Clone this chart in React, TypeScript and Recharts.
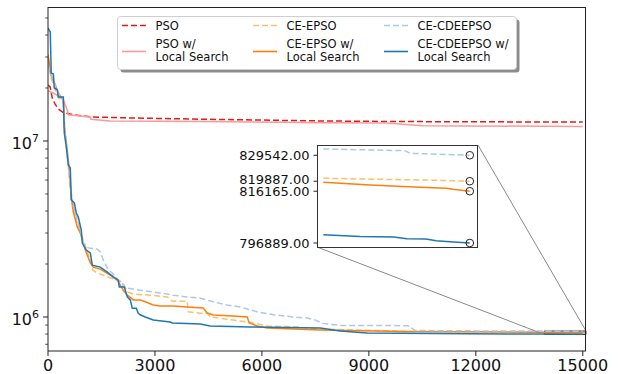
import React from 'react';
import { LineChart, Line, XAxis, YAxis, ReferenceArea } from 'recharts';

const FONT = '"DejaVu Sans", Verdana, sans-serif';

// best-so-far fitness per iteration
const psoIter = [0, 60, 120, 200, 290, 430, 700, 1200, 2400, 4300, 7600, 9600, 15000];
const psoVal = [2.08e7, 2.03e7, 1.75e7, 1.62e7, 1.52e7, 1.45e7, 1.41e7, 1.37e7, 1.35e7, 1.33e7, 1.3e7, 1.29e7, 1.28e7];

const psoLsIter = [0, 200, 430, 540, 570, 1180, 1200, 1750, 4270, 7640, 9500, 10500, 15000];
const psoLsVal = [1.93e7, 1.85e7, 1.71e7, 1.5e7, 1.41e7, 1.37e7, 1.33e7, 1.3e7, 1.29e7, 1.27e7, 1.265e7, 1.22e7, 1.21e7];

const epsoIter = [0, 80, 200, 300, 430, 470, 560, 620, 681, 738, 850, 962, 1102, 1158, 1242, 1250, 1382, 1663, 1943, 2111, 2224, 2392, 2868, 3345, 3485, 3905, 3933, 4270, 4466, 4551, 5195, 5588, 5756, 6149, 6990, 7636, 10000, 14000, 15000];
const epsoVal = [2.9e7, 2.3e7, 1.95e7, 1.75e7, 1.65e7, 1.15e7, 7.5e6, 5.5e6, 4.74e6, 3.95e6, 3.25e6, 2.85e6, 2.34e6, 2.19e6, 1.97e6, 1.85e6, 1.78e6, 1.69e6, 1.62e6, 1.56e6, 1.39e6, 1.35e6, 1.33e6, 1.3e6, 1.23e6, 1.23e6, 1.07e6, 1.05e6, 1.05e6, 1.0e6, 9.61e5, 9.37e5, 9.25e5, 8.89e5, 8.78e5, 8.55e5, 8.28e5, 821010, 819887];

const epsoLsIter = [0, 90, 200, 300, 430, 460, 520, 600, 650, 710, 822, 906, 1046, 1102, 1186, 1270, 1466, 1747, 1943, 2111, 2224, 2392, 2588, 2728, 2952, 3149, 3513, 3905, 4354, 4466, 4634, 5195, 5588, 5644, 5868, 6149, 7636, 10000, 14000, 15000];
const epsoLsVal = [3.1e7, 2.35e7, 2.1e7, 1.85e7, 1.72e7, 1.2e7, 9.5e6, 6.8e6, 4.8e6, 3.95e6, 3.25e6, 3.0e6, 2.4e6, 2.25e6, 2.03e6, 1.92e6, 1.87e6, 1.73e6, 1.62e6, 1.42e6, 1.33e6, 1.25e6, 1.25e6, 1.22e6, 1.17e6, 1.155e6, 1.155e6, 1.14e6, 1.125e6, 1.054e6, 1.027e6, 1.013e6, 1.0e6, 9.25e5, 8.89e5, 8.66e5, 8.44e5, 8.26e5, 819520, 816165];

const cdeIter = [0, 150, 280, 430, 470, 540, 600, 681, 766, 906, 990, 1130, 1382, 1466, 1551, 1691, 1803, 1887, 1971, 2084, 2111, 2224, 2588, 3149, 3513, 3905, 4270, 4634, 5027, 5392, 5868, 6317, 6878, 7271, 7500, 7700, 8200, 10100, 10300, 12000, 14000, 15000];
const cdeVal = [2.7e7, 2.2e7, 1.9e7, 1.7e7, 1.15e7, 9e6, 6.5e6, 4.5e6, 3.9e6, 3.12e6, 2.63e6, 2.47e6, 2.43e6, 2.34e6, 2.11e6, 1.85e6, 1.78e6, 1.69e6, 1.62e6, 1.58e6, 1.48e6, 1.46e6, 1.42e6, 1.37e6, 1.33e6, 1.3e6, 1.28e6, 1.22e6, 1.17e6, 1.14e6, 1.07e6, 1.03e6, 1.0e6, 9.87e5, 9.6e5, 9.2e5, 8.95e5, 8.93e5, 8.38e5, 8.34e5, 831880, 829542];

const cdeLsIter = [0, 64, 90, 150, 177, 260, 289, 430, 457, 513, 570, 625, 653, 738, 794, 850, 934, 962, 1074, 1186, 1242, 1466, 1663, 1831, 1971, 2000, 2140, 2224, 2308, 2364, 2476, 2532, 2588, 2728, 2952, 3429, 3485, 4270, 4551, 5672, 7636, 8196, 8953, 11757, 14000, 15000];
const cdeLsVal = [4.38e7, 4.16e7, 2.43e7, 2.4e7, 2.0e7, 1.95e7, 1.78e7, 1.78e7, 1.11e7, 9.25e6, 7.31e6, 7.03e6, 4.62e6, 4.45e6, 3.9e6, 3.7e6, 3.12e6, 2.63e6, 2.4e6, 2.31e6, 1.97e6, 1.92e6, 1.8e6, 1.69e6, 1.62e6, 1.48e6, 1.48e6, 1.3e6, 1.25e6, 1.12e6, 1.12e6, 1.05e6, 1.03e6, 1.0e6, 9.61e5, 9.37e5, 9.25e5, 9.13e5, 8.89e5, 8.78e5, 8.66e5, 8.32e5, 8.11e5, 8.02e5, 799970, 796889];

// zoomed inset, last 1000 iterations
const insetEpsoIter = [14000, 14320, 14660, 15000];
const insetEpsoVal = [821010, 820640, 820380, 819887];
const insetEpsoLsIter = [14000, 14320, 14660, 14840, 14886, 15000];
const insetEpsoLsVal = [819520, 818520, 817670, 817300, 816920, 816165];
const insetCdeIter = [14000, 14557, 14591, 15000];
const insetCdeVal = [831880, 831250, 830280, 829542];
const insetCdeLsIter = [14000, 14250, 14480, 14570, 14700, 14770, 14890, 15000];
const insetCdeLsVal = [799970, 799350, 799100, 798500, 798370, 797750, 797250, 796889];

const xTicks = [0, 3000, 6000, 9000, 12000, 15000];
const yTicks = [7e5, 8e5, 9e5, 1e6, 2e6, 3e6, 4e6, 5e6, 6e6, 7e6, 8e6, 9e6, 1e7, 2e7, 3e7, 4e7, 5e7];
const insetTicks = [796889, 816165, 819887, 829542];

const X_MAX = 15090;
const Y_MIN = 641000;
const Y_MAX = 5.77e7;
const ZOOM_X = [13923, X_MAX];
const ZOOM_Y = [795405, 833364];

const C = {
  pso: '#e31a1c',
  psoLs: '#fb9a99',
  epso: '#fdbf6f',
  epsoLs: '#ff7f0e',
  cde: '#aec7e8',
  cdeLs: '#1f77b4',
};

const pts = (xs: number[], ys: number[]) => xs.map((x, i) => ({ x, y: ys[i] }));

// main plot box
const PL = 48, PR = 586, PT = 7, PB = 351;
const mx = (v: number) => PL + (v / X_MAX) * (PR - PL);
const my = (v: number) =>
  PB - ((Math.log10(v) - Math.log10(Y_MIN)) / (Math.log10(Y_MAX) - Math.log10(Y_MIN))) * (PB - PT);

// inset box
const IL = 317, IR = 478, IT = 145, IB = 247;
const INSET_LEFT = 230, INSET_TOP = 140;

const MainXTick = (p: any) => (
  <g>
    <line x1={p.x} x2={p.x} y1={p.y} y2={p.y + 5} stroke="#222" />
    <text x={p.x} y={p.y + 19.5} textAnchor="middle" fontSize={16} fontFamily={FONT} fill="#111">
      {p.payload.value}
    </text>
  </g>
);

const MainYTick = (p: any) => {
  const e = Math.log10(p.payload.value);
  const major = Math.abs(e - Math.round(e)) < 1e-9;
  return (
    <g>
      <line x1={p.x} x2={p.x - (major ? 5 : 2.8)} y1={p.y} y2={p.y} stroke="#222" strokeWidth={major ? 1 : 0.8} />
      {major && (
        <text x={39} y={p.y + 8} textAnchor="end" fontSize={16} fontFamily={FONT} fill="#111">
          10<tspan fontSize={11} dy={-7}>{Math.round(e)}</tspan>
        </text>
      )}
    </g>
  );
};

const InsetYTick = (p: any) => {
  const v = p.payload.value;
  const nudge = v === 819887 ? -2 : 0;
  return (
    <g>
      <line x1={p.x} x2={p.x - 3.5} y1={p.y} y2={p.y} stroke="#222" />
      <text x={p.x - 7.5} y={p.y + 4.6 + nudge} textAnchor="end" fontSize={13} fontFamily={FONT} fill="#111">
        {v.toFixed(2)}
      </text>
    </g>
  );
};

const endDot = (n: number) => (p: any) =>
  p.index === n - 1 ? (
    <circle key={'e' + p.index} cx={p.cx} cy={p.cy} r={3.8} fill="none" stroke="#222" strokeWidth={1} />
  ) : (
    <g key={'e' + p.index} />
  );

const legendItems = [
  { col: 0, row: 0, label: ['PSO'], color: C.pso, dash: '6 3' },
  { col: 0, row: 1, label: ['PSO w/', 'Local Search'], color: C.psoLs, dash: undefined },
  { col: 1, row: 0, label: ['CE-EPSO'], color: C.epso, dash: '6 3' },
  { col: 1, row: 1, label: ['CE-EPSO w/', 'Local Search'], color: C.epsoLs, dash: undefined },
  { col: 2, row: 0, label: ['CE-CDEEPSO'], color: C.cde, dash: '6 3' },
  { col: 2, row: 1, label: ['CE-CDEEPSO w/', 'Local Search'], color: C.cdeLs, dash: undefined },
];
const colX = [122, 253, 384];

function LegendBox() {
  return (
    <g fontFamily={FONT} fontSize={11.5} fill="#111">
      <rect x={120.5} y={19.5} width={399} height={53} rx={3} fill="#8c8c8c" />
      <rect x={117.5} y={16.5} width={399} height={53} rx={3} fill="#fff" stroke="#cfcfcf" />
      {legendItems.map((it) => {
        const hx = colX[it.col];
        const hy = it.row === 0 ? 25.5 : 51.5;
        return (
          <g key={it.label.join()}>
            <line x1={hx} x2={hx + 24} y1={hy} y2={hy} stroke={it.color} strokeWidth={1.6} strokeDasharray={it.dash} />
            {it.row === 0 ? (
              <text x={hx + 33.5} y={29.6}>{it.label[0]}</text>
            ) : (
              <text x={hx + 33.5} y={48.2}>
                {it.label[0]}
                <tspan x={hx + 33.5} dy={12.6}>{it.label[1]}</tspan>
              </text>
            )}
          </g>
        );
      })}
    </g>
  );
}

export default function App() {
  const mainSeries = [
    { key: 'pso', data: pts(psoIter, psoVal), color: C.pso, dash: '6 3' },
    { key: 'psoLs', data: pts(psoLsIter, psoLsVal), color: C.psoLs },
    { key: 'epso', data: pts(epsoIter, epsoVal), color: C.epso, dash: '6 3' },
    { key: 'epsoLs', data: pts(epsoLsIter, epsoLsVal), color: C.epsoLs },
    { key: 'cde', data: pts(cdeIter, cdeVal), color: C.cde, dash: '6 3' },
    { key: 'cdeLs', data: pts(cdeLsIter, cdeLsVal), color: C.cdeLs },
  ];
  const insetSeries = [
    { key: 'epso', data: pts(insetEpsoIter, insetEpsoVal), color: C.epso, dash: '6 3' },
    { key: 'epsoLs', data: pts(insetEpsoLsIter, insetEpsoLsVal), color: C.epsoLs },
    { key: 'cde', data: pts(insetCdeIter, insetCdeVal), color: C.cde, dash: '6 3' },
    { key: 'cdeLs', data: pts(insetCdeLsIter, insetCdeLsVal), color: C.cdeLs },
  ];

  return (
    <div style={{ position: 'fixed', left: 0, top: 0, width: 623, height: 374, background: '#fff', overflow: 'hidden' }}>
      <LineChart width={623} height={374} margin={{ top: PT, right: 623 - PR, bottom: 0, left: 0 }}>
        <XAxis
          dataKey="x"
          type="number"
          domain={[0, X_MAX]}
          allowDataOverflow
          ticks={xTicks}
          interval={0}
          height={374 - PB}
          tickSize={0}
          tickMargin={0}
          tickLine={false}
          tick={<MainXTick />}
          axisLine={{ stroke: '#222' }}
        />
        <YAxis
          dataKey="y"
          type="number"
          scale="log"
          domain={[Y_MIN, Y_MAX]}
          allowDataOverflow
          ticks={yTicks}
          interval={0}
          width={PL}
          tickSize={0}
          tickMargin={0}
          tickLine={false}
          tick={<MainYTick />}
          axisLine={{ stroke: '#222' }}
        />
        {mainSeries.map((s) => (
          <Line
            key={s.key}
            data={s.data}
            dataKey="y"
            type="linear"
            stroke={s.color}
            strokeWidth={1.5}
            strokeDasharray={s.dash}
            dot={false}
            isAnimationActive={false}
          />
        ))}
        <ReferenceArea
          x1={ZOOM_X[0]}
          x2={ZOOM_X[1]}
          y1={ZOOM_Y[0]}
          y2={ZOOM_Y[1]}
          fill="#666"
          fillOpacity={0.45}
          stroke="#333"
          strokeOpacity={0.9}
          ifOverflow="visible"
        />
      </LineChart>

      <svg width={623} height={374} style={{ position: 'absolute', left: 0, top: 0, pointerEvents: 'none' }}>
        <line x1={IR} y1={IT} x2={mx(ZOOM_X[1])} y2={my(ZOOM_Y[1])} stroke="#8a8a8a" strokeWidth={1} />
        <line x1={IL} y1={IB} x2={mx(ZOOM_X[0])} y2={my(ZOOM_Y[0])} stroke="#8a8a8a" strokeWidth={1} />
      </svg>

      <div style={{ position: 'absolute', left: INSET_LEFT, top: INSET_TOP }}>
        <LineChart
          width={IR - INSET_LEFT + 2}
          height={IB - INSET_TOP + 10}
          margin={{ top: IT - INSET_TOP, right: 2, bottom: 10, left: 0 }}
        >
          <rect x={IL - INSET_LEFT} y={IT - INSET_TOP} width={IR - IL} height={IB - IT} fill="#fff" />
          <XAxis dataKey="x" type="number" domain={[13957, 15056]} hide allowDataOverflow />
          <YAxis
            dataKey="y"
            type="number"
            domain={ZOOM_Y}
            allowDataOverflow
            ticks={insetTicks}
            interval={0}
            width={IL - INSET_LEFT}
            tickSize={0}
            tickMargin={0}
            tickLine={false}
            tick={<InsetYTick />}
            axisLine={false}
          />
          {insetSeries.map((s) => (
            <Line
              key={s.key}
              data={s.data}
              dataKey="y"
              type="linear"
              stroke={s.color}
              strokeWidth={1.5}
              strokeDasharray={s.dash}
              dot={endDot(s.data.length)}
              isAnimationActive={false}
            />
          ))}
        </LineChart>
      </div>

      <svg width={623} height={374} style={{ position: 'absolute', left: 0, top: 0, pointerEvents: 'none' }}>
        <line x1={PL} x2={PR} y1={PT + 0.5} y2={PT + 0.5} stroke="#222" />
        <line x1={PR - 0.5} x2={PR - 0.5} y1={PT} y2={PB} stroke="#222" />
        <rect x={IL + 0.5} y={IT + 0.5} width={IR - IL - 1} height={IB - IT} fill="none" stroke="#333" />
        <LegendBox />
      </svg>
    </div>
  );
}
